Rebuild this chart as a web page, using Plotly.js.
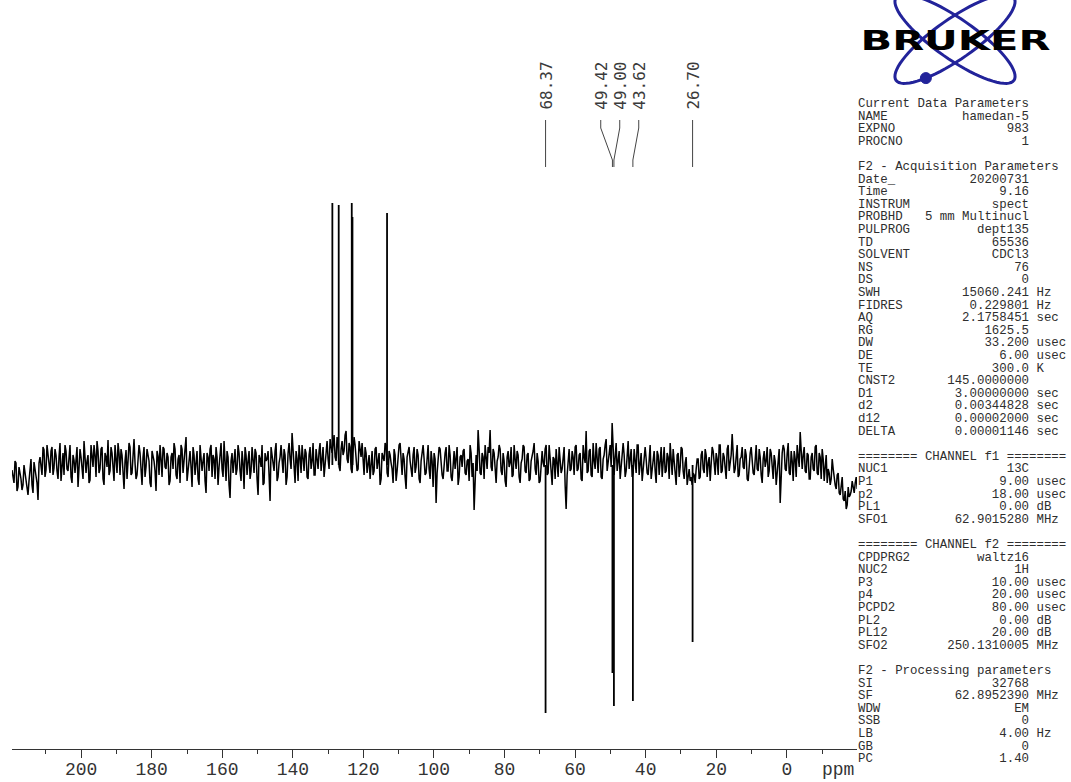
<!DOCTYPE html>
<html>
<head>
<meta charset="utf-8">
<script src="https://cdn.plot.ly/plotly-3.0.1.min.js"></script>
<style>
html,body{margin:0;padding:0;background:#fff;}
#chart{width:1071px;height:782px;}
</style>
</head>
<body>
<div id="chart"></div>
<script>
// ---------------- DATA ----------------
// Spectrum sampling (ppm axis of the digitised trace)
const noiseStartPpm = 219.6;
const noiseStepPpm = -0.2835;
// Baseline noise (intensity, arbitrary units): even samples
const noiseEven = [
-5,-18,2,-22,-8,-25,0,-15,-30,-6,-20,3,-12,-35,8,-10,15,-5,12,-8,
18,-3,10,-14,22,2,-10,14,-6,20,-18,5,12,-22,16,0,24,-8,10,-15,
6,20,-12,14,-4,18,-20,8,25,-6,12,-16,4,22,-10,10,-24,15,2,18,
-8,26,-14,6,12,-20,18,-2,10,-18,14,4,-26,9,20,-12,16,-4,8,-16,
12,22,-10,6,-18,16,2,28,-8,14,-22,10,4,-14,20,-6,12,-28,8,16,
-12,6,18,-20,10,-4,24,-16,8,-33,12,2,-10,20,-6,14,-24,10,4,-14,
18,-8,12,-30,6,20,-18,4,14,-36,10,-6,22,-12,8,-2,16,-20,12,6,
32,-10,14,-16,8,20,-6,12,-14,18,4,-10,16,-4,22,8,-12,18,6,26,
12,30,4,20,-6,24,14,34,2,18,-8,28,10,-4,16,22,-10,12,2,-14,
14,-6,18,8,-20,12,4,20,-12,10,-4,16,-16,8,22,-10,6,-24,12,4,
-12,18,-2,10,-18,14,6,-8,20,-14,4,12,-38,8,16,-10,2,18,-6,10,
-16,14,4,-20,8,-2,16,-10,6,20,-12,-45,10,35,-8,12,-14,6,18,35,
-6,12,-18,8,16,-10,4,-22,14,2,-12,20,-4,10,-18,6,18,-8,12,-14,
8,22,-10,4,-16,14,-2,20,-8,10,-20,6,16,-12,8,-4,18,-44,10,-6,
14,-10,20,-4,12,-16,8,34,-6,16,-12,4,22,-8,18,-14,10,26,2,20,
42,-10,22,6,-14,18,10,-6,24,4,-12,16,-8,20,2,-16,12,6,-10,20,
-4,14,-18,10,2,-12,18,-6,8,22,-10,4,-20,12,-2,16,-14,8,-8,-16,
-20,-10,-4,6,-12,14,-8,10,2,-16,18,-4,12,-10,20,-6,8,-14,20,4,
31,-8,14,-12,6,18,-4,10,-16,12,2,-10,20,-6,8,-18,14,4,-12,16,
-8,10,-20,6,-38,12,16,-6,22,-10,4,14,-12,8,33,-4,18,-8,10,-14,
12,-6,20,-10,8,16,-16,10,-4,-20,6,-14,-24,-8,-30,-12,-36,-44,-22,-30,
-16,-28,-12,-20
];
// odd samples (between the even ones)
const noiseOdd = [
-12,4,-26,-2,-14,-20,-8,-24,-16,6,-28,-4,-18,2,-6,18,-12,20,-2,14,
-10,16,-6,8,-16,12,20,-4,14,-12,10,-8,18,-4,8,-14,12,4,-18,20,
-2,10,24,-8,16,-14,12,-2,-10,18,-4,20,-8,12,16,-6,4,-14,22,-10,
14,2,-10,20,-4,8,-12,16,4,-22,10,-6,14,-10,6,18,-2,12,-20,8,
-4,16,-14,10,20,-8,12,-16,6,-2,18,-10,14,-20,8,4,-16,12,-6,20,
10,-14,8,-2,22,-12,6,14,-20,4,-8,16,-4,12,-16,2,18,-10,14,-6,
4,16,-14,10,-2,-20,12,6,-10,18,-4,14,-16,2,20,-8,10,-12,22,-4,
12,-18,6,20,-8,4,16,-12,10,-4,22,-10,6,14,-6,18,2,24,-4,16,
20,8,28,-2,16,10,30,6,22,-4,14,20,-6,24,8,-2,18,-8,10,4,
-10,16,-4,12,-14,6,22,-8,14,2,-18,10,-6,20,-2,12,-12,8,18,-6,
10,-8,16,-14,4,20,-10,12,-4,14,-22,6,-8,18,2,-14,12,-6,20,-12,
6,-4,18,-12,10,14,-8,4,-16,12,2,-20,-6,16,-10,8,20,-4,12,-2,
16,-10,4,20,-6,12,-16,8,-2,18,-10,6,14,-12,2,20,-6,10,-16,4,
14,-4,12,-18,8,2,16,-10,20,-6,8,-14,4,18,-8,12,-20,-10,16,-4,
8,18,-6,10,-14,20,2,-8,14,-10,22,-4,8,16,-12,6,20,-6,14,-2,
18,8,-6,14,-2,22,-12,10,-4,16,-8,6,20,-10,12,-4,18,-8,12,-14,
8,-6,14,-10,18,4,-8,12,-14,6,16,-4,10,-12,18,-6,2,-20,-4,-12,
-8,-18,6,-14,10,-4,16,-12,8,-2,14,-10,6,20,-8,12,-2,16,-6,10,
14,-4,20,-10,8,-2,16,-14,6,18,-8,12,-4,16,-10,6,-2,18,-6,12,
-14,4,-6,16,-10,20,-4,12,-8,14,-16,6,20,-2,16,10,-6,12,-14,8,
-4,18,-8,12,-14,6,-2,-18,-8,-14,-4,-20,-10,-28,-18,-34,-26,-40,-32,-26,
-22,-18,-24
];
// Positive (CH / CH3) peaks
const posPeakPpm = [128.80, 127.00, 123.30, 123.10, 113.30];
const posPeakInt = [262, 260, 262, 248, 252];
// Negative (CH2) peaks
const negPeakPpm = [68.37, 49.42, 49.00, 43.62, 26.70];
const negPeakInt = [-248, -208, -241, -236, -177];
const peakLabels = ['68.37', '49.42', '49.00', '43.62', '26.70'];
// Axis ticks
const tickVals = [200, 180, 160, 140, 120, 100, 80, 60, 40, 20, 0];
const tickText = ['200', '180', '160', '140', '120', '100', '80', '60', '40', '20', '0'];
const axisTitle = 'ppm';
// Parameter panel
const paramLabels = [
'Current Data Parameters','NAME','EXPNO','PROCNO','',
'F2 - Acquisition Parameters','Date_','Time','INSTRUM','PROBHD','PULPROG','TD','SOLVENT','NS','DS',
'SWH','FIDRES','AQ','RG','DW','DE','TE','CNST2','D1','d2','d12','DELTA','',
'======== CHANNEL f1 ========','NUC1','P1','p2','PL1','SFO1','',
'======== CHANNEL f2 ========','CPDPRG2','NUC2','P3','p4','PCPD2','PL2','PL12','SFO2','',
'F2 - Processing parameters','SI','SF','WDW','SSB','LB','GB','PC'];
const paramValues = [
'','hamedan-5','983','1','',
'','20200731','9.16','spect','5 mm Multinucl','dept135','65536','CDCl3','76','0',
'15060.241','0.229801','2.1758451','1625.5','33.200','6.00','300.0','145.0000000','3.00000000','0.00344828','0.00002000','0.00001146','',
'','13C','9.00','18.00','0.00','62.9015280','',
'','waltz16','1H','10.00','20.00','80.00','0.00','20.00','250.1310005','',
'','32768','62.8952390','EM','0','4.00','0','1.40'];
const paramUnits = [
'','','','','',
'','','','','','','','','','',
'Hz','Hz','sec','','usec','usec','K','','sec','sec','sec','sec','',
'','','usec','usec','dB','MHz','',
'','','','usec','usec','usec','dB','dB','MHz','',
'','','MHz','','','Hz','',''];
const logoText = 'BRUKER';

// ---------------- GEOMETRY (layout only) ----------------
const W = 1071, H = 782;
const mL = 12, mR = 214, mT = 0, mB = 33;
const plotW = W - mL - mR, plotH = H - mT - mB;
const xRange = [219.6, -19.9];
const yRange = [-284, 465];
const pxPerPpm = plotW / (xRange[0] - xRange[1]);
const px2paperX = p => (p - mL) / plotW;
const py2paperY = p => 1 - (p - mT) / plotH;

// spectrum trace (even and odd samples interleaved)
const noise = [];
noiseEven.forEach((v, i) => { noise.push(v); if (i < noiseOdd.length) noise.push(noiseOdd[i]); });
const specX = noise.map((_, i) => noiseStartPpm + i * noiseStepPpm);
const specTrace = {
  x: specX, y: noise, type: 'scatter', mode: 'lines',
  line: {color: '#000', width: 1.5}, hoverinfo: 'skip'
};
const pkX = [], pkY = [];
const allPk = posPeakPpm.concat(negPeakPpm), allInt = posPeakInt.concat(negPeakInt);
allPk.forEach((p, i) => { pkX.push(p, p, null); pkY.push(0, allInt[i], null); });
const peakTrace = {
  x: pkX, y: pkY, type: 'scatter', mode: 'lines',
  line: {color: '#000', width: 1.8}, hoverinfo: 'skip'
};

// peak label spreading (ppm, descending)
const gapPpm = 19 / pxPerPpm;
function spreadLabels(vals) {
  let groups = vals.map(v => ({items: [v], c: v}));
  let changed = true;
  while (changed) {
    changed = false;
    for (let i = 0; i < groups.length - 1; i++) {
      const a = groups[i], b = groups[i + 1];
      const aEnd = a.c - (a.items.length - 1) * gapPpm / 2;
      const bStart = b.c + (b.items.length - 1) * gapPpm / 2;
      if (aEnd - bStart < gapPpm) {
        const items = a.items.concat(b.items);
        const c = items.reduce((s, v) => s + v, 0) / items.length;
        groups.splice(i, 2, {items, c});
        changed = true; break;
      }
    }
  }
  const out = [];
  groups.forEach(g => {
    const n = g.items.length;
    g.items.forEach((_, k) => out.push(g.c - (k - (n - 1) / 2) * gapPpm));
  });
  return out;
}
const labelPpm = spreadLabels(negPeakPpm);

const shapes = [];
const annotations = [];
const yTop = py2paperY(120), yB1 = py2paperY(128), yB2 = py2paperY(160), yBot = py2paperY(167);
negPeakPpm.forEach((p, i) => {
  const lx = labelPpm[i];
  shapes.push({
    type: 'path', xref: 'x', yref: 'paper',
    path: `M ${lx},${yTop} L ${lx},${yB1} L ${p},${yB2} L ${p},${yBot}`,
    line: {color: '#444', width: 1}
  });
  annotations.push({
    text: peakLabels[i], x: lx, xref: 'x', y: py2paperY(86), yref: 'paper',
    xanchor: 'center', yanchor: 'middle', textangle: -90, showarrow: false,
    font: {family: 'DejaVu Sans Mono, monospace', size: 16, color: '#3a3a3a'}
  });
});

// ppm label
annotations.push({
  text: axisTitle, x: px2paperX(856), xref: 'paper', y: py2paperY(770), yref: 'paper',
  xanchor: 'right', yanchor: 'middle', showarrow: false,
  font: {family: 'Liberation Mono, Courier New, monospace', size: 18, color: '#333'}
});

// parameter panel
const NB = '\u00a0';
const COLS = 23;
paramLabels.forEach((lab, i) => {
  if (!lab) return;
  let s = lab;
  const v = paramValues[i];
  if (v) {
    const pad = Math.max(1, COLS - lab.length - v.length);
    s = lab + ' '.repeat(pad) + v;
    if (paramUnits[i]) s += ' ' + paramUnits[i];
  }
  s = s.replace(/ /g, NB);
  annotations.push({
    text: s, x: px2paperX(856), xref: 'paper', y: py2paperY(104 + 12.6 * i), yref: 'paper',
    xanchor: 'left', yanchor: 'middle', showarrow: false,
    font: {family: 'Liberation Mono, Courier New, monospace', size: 12.4, color: '#2e2e2e'}
  });
});

// Bruker logo orbits
const orbitColor = '#22239a';
function ellipsePt(cx, cy, a, b, phiDeg, tDeg) {
  const ph = phiDeg * Math.PI / 180, t = tDeg * Math.PI / 180;
  return [cx + a * Math.cos(t) * Math.cos(ph) - b * Math.sin(t) * Math.sin(ph),
          cy + a * Math.cos(t) * Math.sin(ph) + b * Math.sin(t) * Math.cos(ph)];
}
[35, -35].forEach(phi => {
  let d = '';
  for (let k = 0; k <= 72; k++) {
    const [x, y] = ellipsePt(955, 39, 72, 20, phi, k * 5);
    d += (k === 0 ? 'M ' : ' L ') + px2paperX(x).toFixed(5) + ',' + py2paperY(y).toFixed(5);
  }
  shapes.push({type: 'path', xref: 'paper', yref: 'paper', path: d + ' Z',
    line: {color: orbitColor, width: 3}});
});
const dot = ellipsePt(955, 39, 72, 20, -35, 130);
shapes.push({type: 'circle', xref: 'paper', yref: 'paper',
  x0: px2paperX(dot[0] - 5.5), x1: px2paperX(dot[0] + 5.5),
  y0: py2paperY(dot[1] + 5.5), y1: py2paperY(dot[1] - 5.5),
  fillcolor: orbitColor, line: {color: orbitColor, width: 1}});
annotations.push({
  text: logoText, x: px2paperX(955), xref: 'paper', y: py2paperY(41), yref: 'paper',
  xanchor: 'center', yanchor: 'middle', showarrow: false,
  font: {family: 'DejaVu Sans, sans-serif', size: 26, weight: 'bold', color: '#000'}
});

const layout = {
  width: W, height: H,
  margin: {l: mL, r: mR, t: mT, b: mB, pad: 0},
  paper_bgcolor: '#fff', plot_bgcolor: '#fff',
  showlegend: false,
  xaxis: {
    range: xRange, autorange: false,
    tickmode: 'array', tickvals: tickVals, ticktext: tickText,
    ticks: 'outside', ticklen: 8, tickwidth: 1, tickcolor: '#333',
    ticklabelstandoff: -5,
    showline: true, linecolor: '#333', linewidth: 1,
    showgrid: false, zeroline: false,
    tickfont: {family: 'Liberation Mono, Courier New, monospace', size: 18, color: '#333'},
    minor: {dtick: 10, tick0: 0, ticks: 'outside', ticklen: 4, tickwidth: 1, tickcolor: '#333', showgrid: false}
  },
  yaxis: {range: yRange, autorange: false, visible: false, showgrid: false, zeroline: false},
  shapes: shapes,
  annotations: annotations
};

Plotly.newPlot('chart', [specTrace, peakTrace], layout, {staticPlot: true, displayModeBar: false}).then(() => {
  try {
    document.querySelectorAll('text.annotation-text').forEach(t => {
      if (t.textContent === logoText) {
        const bb = t.getBBox();
        const cx = bb.x + bb.width / 2;
        const sx = 190 / bb.width;
        t.setAttribute('transform', `translate(${cx} 0) scale(${sx} 1) translate(${-cx} 0)`);
      }
    });
  } catch (e) {}
});
</script>
</body>
</html>
